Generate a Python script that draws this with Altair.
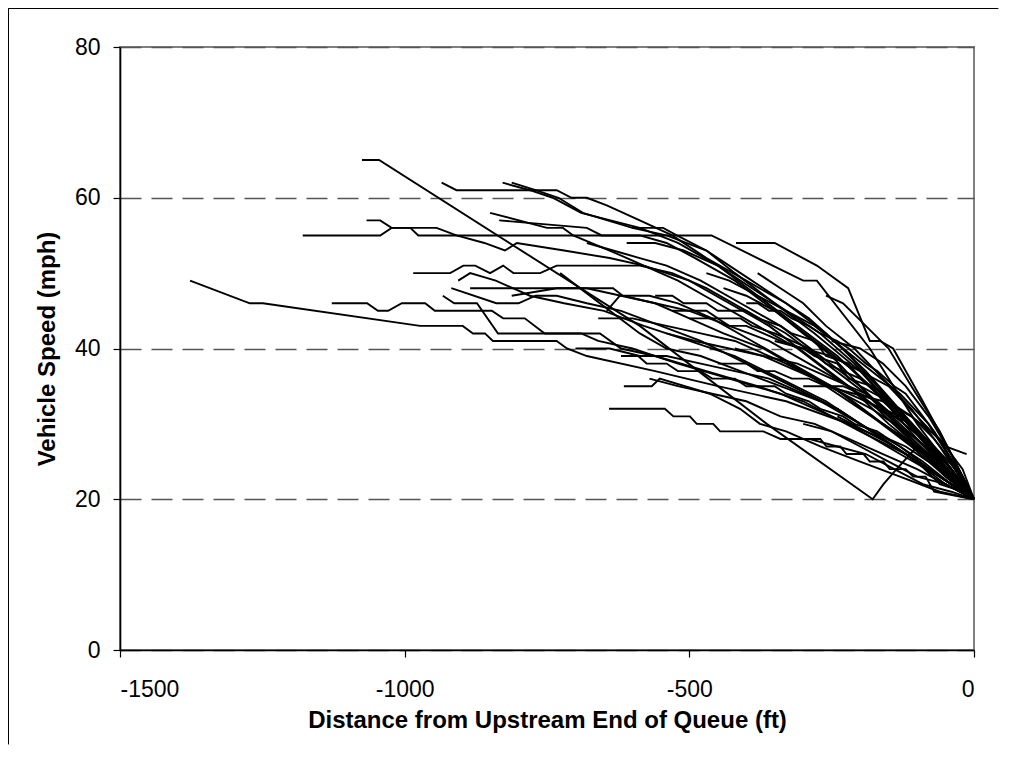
import altair as alt
import pandas as pd

# Each run: list of (distance ft, speed mph)
run01 = [(-1377, 49), (-1272, 46), (-1249, 46), (-973, 43), (-898, 43), (-880, 42), (-859, 42), (-845, 41), (-733, 41), (-715, 40), (-680, 39), (-560, 37), (-450, 35), (-330, 33), (-220, 30), (-130, 26), (-60, 23), (0, 20)]
run02 = [(-1128, 46), (-1066, 46), (-1047, 45), (-1029, 45), (-1005, 46), (-964, 46), (-947, 45), (-847, 45), (-827, 44), (-789, 44), (-754, 42), (-690, 42), (-660, 41), (-600, 40), (-520, 38), (-430, 36), (-340, 34), (-250, 31), (-160, 28), (-80, 24), (0, 20)]
run03 = [(-933, 47), (-913, 46), (-873, 46), (-836, 42), (-657, 42), (-620, 40), (-560, 39), (-470, 37), (-380, 35), (-300, 33), (-200, 29), (-120, 26), (-50, 22), (0, 20)]
run04 = [(-1075, 65), (-1045, 65), (-587, 43), (-364, 30), (-178, 20), (-159, 22), (-136, 24), (-100, 27), (-60, 25), (0, 20)]
run05 = [(-935, 62), (-909, 61), (-733, 61), (-707, 60), (-680, 60), (-645, 59), (-587, 57), (-530, 55), (-470, 52), (-400, 49), (-330, 46), (-260, 42), (-190, 37), (-120, 31), (-60, 26), (0, 20)]
run06 = [(-828, 62), (-780, 61), (-740, 60), (-690, 58), (-587, 56), (-520, 54), (-450, 51), (-380, 47), (-310, 43), (-240, 39), (-170, 34), (-100, 28), (-40, 23), (0, 20)]
run07 = [(-812, 62), (-770, 61), (-730, 60), (-687, 58), (-600, 56), (-540, 55), (-470, 53), (-420, 50), (-350, 46), (-280, 42), (-200, 37), (-140, 32), (-80, 27), (0, 20)]
run08 = [(-850, 58), (-750, 56), (-722, 56), (-704, 55), (-640, 53), (-580, 51), (-500, 49), (-430, 46), (-360, 43), (-290, 39), (-220, 35), (-150, 30), (-70, 25), (0, 20)]
run09 = [(-834, 57), (-680, 56), (-654, 55), (-587, 55), (-540, 54), (-490, 52), (-420, 49), (-350, 45), (-280, 41), (-210, 37), (-140, 32), (-70, 26), (0, 20)]
run10 = [(-1179, 55), (-1043, 55), (-1023, 56), (-990, 56), (-976, 55), (-461, 55), (-300, 49), (-276, 49), (-183, 40), (-100, 30), (-40, 24), (0, 20)]
run11 = [(-1067, 57), (-1043, 57), (-1023, 56), (-944, 56), (-909, 55), (-860, 54), (-824, 53), (-803, 54), (-720, 53), (-640, 52), (-580, 51), (-520, 49), (-450, 46), (-380, 43), (-310, 40), (-240, 36), (-170, 32), (-100, 27), (-40, 23), (0, 20)]
run12 = [(-985, 50), (-920, 50), (-897, 51), (-876, 51), (-850, 50), (-827, 51), (-809, 50), (-762, 50), (-733, 51), (-587, 51), (-530, 50), (-470, 48), (-400, 45), (-330, 42), (-260, 38), (-190, 34), (-120, 29), (-60, 24), (0, 20)]
run13 = [(-906, 49), (-885, 50), (-840, 49), (-780, 47), (-720, 46), (-650, 45), (-580, 43), (-500, 41), (-420, 39), (-340, 36), (-260, 33), (-180, 29), (-100, 25), (0, 20)]
run14 = [(-918, 48), (-839, 46), (-800, 46), (-770, 47), (-733, 47), (-680, 46), (-620, 45), (-550, 43), (-480, 41), (-400, 38), (-320, 35), (-240, 32), (-160, 28), (-80, 24), (0, 20)]
run15 = [(-885, 48), (-634, 48), (-617, 47), (-560, 46), (-500, 45), (-430, 43), (-360, 41), (-290, 38), (-220, 35), (-150, 31), (-80, 26), (0, 20)]
run16 = [(-812, 47), (-733, 48), (-680, 48), (-620, 47), (-560, 46), (-500, 44), (-440, 42), (-370, 40), (-300, 37), (-230, 34), (-160, 30), (-90, 26), (0, 20)]
run17 = [(-727, 50), (-587, 42), (-540, 40), (-480, 39), (-410, 37), (-340, 35), (-270, 33), (-200, 30), (-130, 27), (-60, 23), (0, 20)]
run18 = [(-645, 45), (-622, 47), (-570, 47), (-520, 46), (-460, 44), (-390, 41), (-320, 38), (-250, 35), (-180, 31), (-110, 27), (-50, 23), (0, 20)]
run19 = [(-680, 54), (-634, 53), (-587, 52), (-540, 51), (-480, 49), (-410, 46), (-340, 43), (-270, 39), (-200, 35), (-130, 30), (-60, 25), (0, 20)]
run20 = [(-600, 56), (-546, 56), (-522, 55), (-470, 53), (-410, 50), (-350, 47), (-290, 44), (-230, 40), (-170, 35), (-110, 30), (-50, 25), (0, 20)]
run21 = [(-418, 54), (-350, 54), (-276, 51), (-221, 48), (-183, 41), (-165, 41), (-142, 40), (-90, 33), (-40, 26), (0, 20)]
run22 = [(-610, 54), (-560, 54), (-510, 53), (-450, 51), (-390, 48), (-330, 45), (-270, 42), (-210, 38), (-150, 33), (-90, 28), (-40, 24), (0, 20)]
run23 = [(-641, 32), (-543, 32), (-528, 31), (-499, 31), (-487, 30), (-458, 30), (-446, 29), (-370, 29), (-340, 28), (-270, 28), (-259, 27), (-235, 27), (-224, 26), (-194, 26), (-183, 25), (-159, 25), (-148, 24), (-120, 24), (-107, 23), (-85, 23), (-70, 21), (0, 20)]
run24 = [(-615, 35), (-566, 35), (-552, 36), (-464, 34), (-411, 32), (-376, 30), (-330, 29), (-270, 27), (-200, 25), (-130, 23), (-60, 21), (0, 20)]
run25 = [(-560, 47), (-530, 47), (-510, 46), (-470, 46), (-450, 45), (-400, 45), (-380, 44), (-340, 43), (-320, 42), (-280, 41), (-260, 39), (-220, 38), (-200, 36), (-160, 34), (-140, 32), (-80, 27), (0, 20)]
run26 = [(-500, 44), (-450, 44), (-430, 43), (-400, 43), (-370, 42), (-340, 41), (-300, 40), (-280, 39), (-240, 38), (-220, 36), (-180, 35), (-160, 33), (-100, 29), (-50, 25), (0, 20)]
run27 = [(-700, 40), (-640, 40), (-587, 39), (-540, 39), (-480, 38), (-420, 37), (-360, 36), (-300, 34), (-240, 32), (-180, 29), (-120, 27), (-60, 24), (0, 20)]
run28 = [(-620, 39), (-590, 39), (-575, 38), (-540, 38), (-520, 37), (-480, 37), (-460, 36), (-420, 36), (-400, 35), (-350, 35), (-330, 34), (-290, 33), (-270, 32), (-230, 31), (-210, 30), (-170, 29), (-150, 28), (-110, 26), (-90, 25), (-40, 22), (0, 20)]
run29 = [(-540, 42), (-490, 41), (-430, 40), (-370, 39), (-310, 37), (-250, 35), (-190, 33), (-130, 31), (-70, 27), (-20, 23), (0, 20)]
run30 = [(-470, 50), (-430, 49), (-380, 47), (-330, 45), (-280, 43), (-230, 40), (-180, 37), (-130, 34), (-80, 30), (-30, 24), (0, 20)]
run31 = [(-400, 46), (-380, 46), (-360, 45), (-340, 45), (-320, 44), (-290, 43), (-270, 42), (-240, 41), (-220, 40), (-190, 38), (-170, 37), (-140, 35), (-120, 34), (-70, 29), (-20, 23), (0, 20)]
run32 = [(-350, 41), (-300, 40), (-250, 39), (-200, 37), (-150, 35), (-100, 31), (-50, 27), (-13, 26)]
run33 = [(-300, 35), (-260, 35), (-210, 34), (-160, 33), (-110, 31), (-60, 28), (-20, 24), (0, 20)]
run34 = [(-450, 38), (-400, 38), (-380, 37), (-350, 37), (-320, 36), (-290, 36), (-260, 35), (-230, 35), (-200, 34), (-170, 33), (-140, 31), (-110, 30), (-60, 26), (0, 20)]
run35 = [(-380, 50), (-340, 48), (-300, 46), (-260, 43), (-210, 40), (-160, 36), (-110, 32), (-60, 27), (0, 20)]
run36 = [(-260, 47), (-230, 46), (-190, 43), (-150, 40), (-110, 35), (-60, 29), (0, 20)]
run37 = [(-530, 45), (-470, 45), (-450, 44), (-410, 44), (-390, 43), (-350, 42), (-320, 41), (-290, 40), (-260, 38), (-230, 37), (-200, 36), (-170, 34), (-110, 30), (-50, 25), (0, 20)]
run38 = [(-660, 44), (-600, 44), (-540, 43), (-480, 42), (-420, 41), (-360, 39), (-300, 37), (-240, 34), (-180, 31), (-120, 28), (-60, 24), (0, 20)]
run39 = [(-420, 40), (-370, 39), (-310, 38), (-250, 36), (-190, 34), (-140, 31), (-90, 28), (-40, 24), (0, 20)]
run40 = [(-250, 41), (-200, 40), (-160, 38), (-120, 35), (-80, 31), (-40, 26), (0, 20)]
run41 = [(-200, 35), (-150, 33), (-110, 31), (-70, 28), (-30, 24), (0, 20)]
run42 = [(-330, 38), (-280, 36), (-230, 34), (-180, 32), (-140, 30), (-100, 28), (-70, 26), (-35, 23), (0, 20)]
run43 = [(-160, 30), (-120, 28), (-80, 26), (-40, 23), (0, 20)]
run44 = [(-300, 30), (-250, 29), (-200, 27), (-150, 25), (-100, 23), (-50, 22), (0, 20)]
run45 = [(-570, 36), (-520, 35), (-460, 34), (-400, 33), (-340, 31), (-280, 30), (-220, 28), (-160, 26), (-100, 24), (-50, 22), (0, 20)]
run46 = [(-240, 31), (-190, 29), (-140, 27), (-100, 25), (-60, 22), (-20, 21), (0, 20)]
run47 = [(-440, 48), (-400, 47), (-350, 45), (-300, 42), (-250, 39), (-200, 35), (-150, 31), (-100, 27), (-50, 23), (0, 20)]
run48 = [(-290, 28), (-240, 27), (-190, 26), (-140, 24), (-90, 22), (-40, 21), (0, 20)]

runs = [run01, run02, run03, run04, run05, run06, run07, run08, run09, run10,
        run11, run12, run13, run14, run15, run16, run17, run18, run19, run20,
        run21, run22, run23, run24, run25, run26, run27, run28, run29, run30,
        run31, run32, run33, run34, run35, run36, run37, run38, run39, run40,
        run41, run42, run43, run44, run45, run46, run47, run48]

x_ticks = [-1500, -1000, -500, 0]
y_ticks = [0, 20, 40, 60, 80]

rows = []
for i, run in enumerate(runs):
    for j, (d, v) in enumerate(run):
        rows.append({"run": f"r{i + 1:02d}", "idx": j, "distance": d, "speed": v})
df = pd.DataFrame(rows)

FONT = "Liberation Sans"
PLOT_W, PLOT_H = 854, 603
PAD = {"left": 112, "top": 39, "right": 30, "bottom": 100}

lines = alt.Chart(df).mark_line(color="black", strokeWidth=1.9).encode(
    x=alt.X("distance:Q",
            scale=alt.Scale(domain=[-1500, 0], nice=False, zero=False),
            axis=alt.Axis(values=x_ticks, grid=False,
                          title="Distance from Upstream End of Queue (ft)",
                          labelExpr="toString(datum.value)",
                          tickSize=7, tickColor="black", tickWidth=1.2,
                          domainColor="black", domainWidth=1.6,
                          labelFont=FONT, labelFontSize=23, labelColor="black",
                          labelPadding=21,
                          titleFont=FONT, titleFontSize=24, titleFontWeight="bold",
                          titleColor="black", titleBaseline="alphabetic", titleY=77)),
    y=alt.Y("speed:Q",
            scale=alt.Scale(domain=[0, 80], nice=False),
            axis=alt.Axis(values=y_ticks, grid=True, gridColor="#555555",
                          gridDash=[21, 10], gridWidth=1.3,
                          title="Vehicle Speed (mph)",
                          tickSize=7, tickColor="black", tickWidth=1.2,
                          domainColor="black", domainWidth=1.6,
                          labelFont=FONT, labelFontSize=23, labelColor="black",
                          labelPadding=13,
                          titleFont=FONT, titleFontSize=24, titleFontWeight="bold",
                          titleColor="black", titleBaseline="alphabetic", titleX=-66)),
    detail="run:N",
    order="idx:Q",
)

# outer chart frame: only its left and top edges fall inside the window,
# drawn as one open polyline (left edge up, then along the top)
frame_pts = [{"o": 0, "fx": -PAD["left"] + 0.5, "fy": PLOT_H + PAD["bottom"] - 6},
             {"o": 1, "fx": -PAD["left"] + 0.5, "fy": -PAD["top"] + 0.5},
             {"o": 2, "fx": PLOT_W + PAD["right"] - 6, "fy": -PAD["top"] + 0.5}]

frame = alt.Chart(alt.Data(values=frame_pts)).mark_trail(color="black").encode(
    x=alt.X("fx:Q", scale=None),
    y=alt.Y("fy:Q", scale=None),
    order="o:Q",
    size=alt.value(1),
)

chart = alt.layer(frame, lines).properties(
    width=PLOT_W, height=PLOT_H,
    autosize=alt.AutoSizeParams(type="none"),
    padding=PAD,
).configure_view(stroke="#808080", strokeWidth=2)

chart.save("out.html", embed_options={"renderer": "svg", "actions": False})
